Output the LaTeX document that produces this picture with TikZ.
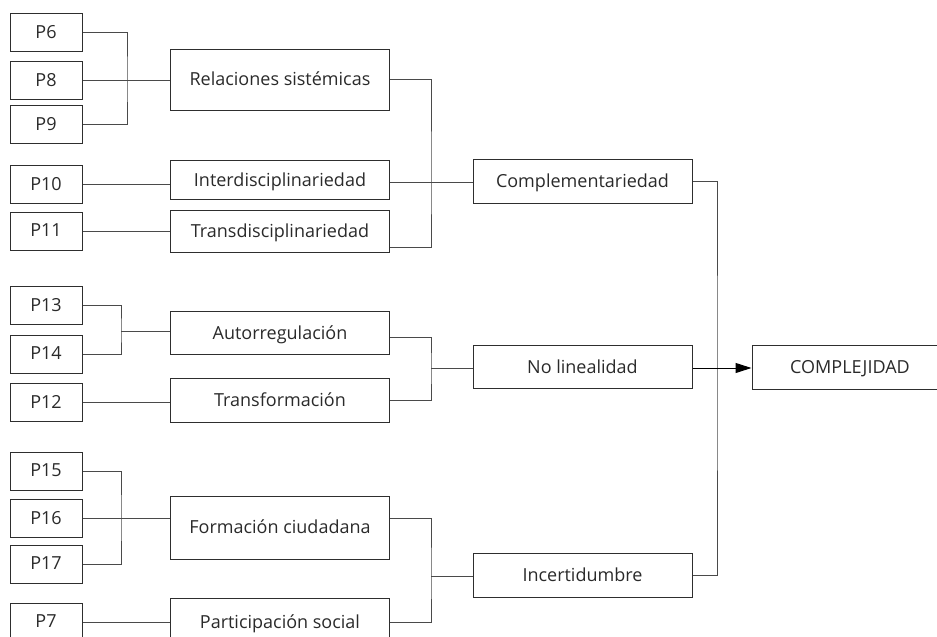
\documentclass[tikz,border=0pt]{standalone}
\usepackage{fontspec}
\setmainfont{Open Sans}
\usetikzlibrary{arrows.meta}
\definecolor{boxline}{HTML}{2E2E2E}
\definecolor{linkline}{HTML}{4A4A4A}
\definecolor{boxtext}{HTML}{2A2A2A}

\begin{document}
\begin{tikzpicture}[x=1pt,y=-1pt,
    every node/.style={draw=boxline,line width=1pt,text=boxtext,font=\fontsize{18}{21}\selectfont,inner sep=2pt,text depth=1pt},
    pbox/.style={minimum width=72pt,minimum height=38pt},
    midbox/.style={minimum width=219pt,minimum height=42pt},
    link/.style={draw=linkline,line width=1pt},
    tri/.tip={Triangle[length=16pt,width=10pt]}]
        \clip (0,0) rectangle (937,637);
        % items
        \node[pbox] (p6) at (46,32) {P6};
        \node[pbox] (p8) at (46,80) {P8};
        \node[pbox] (p9) at (46,124) {P9};
        \node[pbox] (p10) at (46,184) {P10};
        \node[pbox] (p11) at (46,231) {P11};
        \node[pbox] (p13) at (46,305) {P13};
        \node[pbox] (p14) at (46,354) {P14};
        \node[pbox] (p12) at (46,402) {P12};
        \node[pbox] (p15) at (46,471) {P15};
        \node[pbox] (p16) at (46,518) {P16};
        \node[pbox] (p17) at (46,564) {P17};
        \node[pbox] (p7) at (46,622) {P7};
        % categories
        \node[midbox,minimum height=61pt] (rel) at (280,79.5) {Relaciones sistémicas};
        \node[midbox,minimum height=39pt] (inter) at (280,180) {Interdisciplinariedad};
        \node[midbox] (trans) at (280,231) {Transdisciplinariedad};
        \node[midbox,minimum height=43pt] (auto) at (280,333) {Autorregulación};
        \node[midbox,minimum height=44pt] (transf) at (280,400) {Transformación};
        \node[midbox,minimum height=63pt] (form) at (280,527.5) {Formación ciudadana};
        \node[midbox,minimum height=48pt] (part) at (280,622) {Participación social};
        % dimensions
        \node[midbox,minimum height=44pt] (comp) at (582.5,181) {Complementariedad};
        \node[midbox,minimum height=43pt] (nolin) at (582.5,367) {No linealidad};
        \node[midbox,minimum height=44pt] (incert) at (582.5,575) {Incertidumbre};
        \node[minimum width=196pt,minimum height=44pt] (compl) at (850,367) {COMPLEJIDAD};
        % junctions
        \coordinate (j1) at (127,80);
        \coordinate (j2) at (431,182);
        \coordinate (j3) at (121,331);
        \coordinate (j4) at (431,368);
        \coordinate (j5) at (121,518);
        \coordinate (j6) at (431,576);
        \coordinate (j7) at (717,368);
        % links
        \draw[link] (p6) -| (j1) |- (p9);
        \draw[link] (p8) -- (p8 -| rel.west);
        \draw[link] (p10) -- (p10 -| inter.west);
        \draw[link] (p11) -- (p11 -| trans.west);
        \draw[link] (rel) -| (j2) |- ([yshift=-16pt]trans.east);
        \draw[link] (inter.east |- j2) -- (j2 -| comp.west);
        \draw[link] (p13) -| (j3) |- (p14);
        \draw[link] (j3) -- (j3 -| auto.west);
        \draw[link] (p12) -- (p12 -| transf.west);
        \draw[link] ([yshift=-4pt]auto.east) -| (j4) |- (transf);
        \draw[link] (j4) -- (j4 -| nolin.west);
        \draw[link] (p15) -| (j5) |- (p17);
        \draw[link] (p16) -- (p16 -| form.west);
        \draw[link] (p7) -- (p7 -| part.west);
        \draw[link] (form.east |- j5) -| (j6) |- (part);
        \draw[link] (j6) -- (j6 -| incert.west);
        \draw[link] (comp) -| (j7) |- (incert);
        \draw[link,-tri,color=black] (nolin.east |- j7) -- (j7 -| compl.west);
\end{tikzpicture}
\end{document}
